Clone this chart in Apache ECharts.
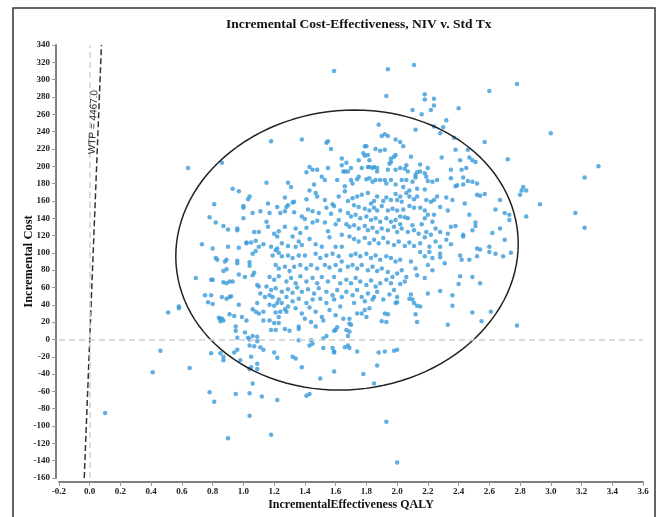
<!DOCTYPE html>
<html>
<head>
<meta charset="utf-8">
<script src="https://cdn.jsdelivr.net/npm/echarts@6/dist/echarts.min.js"></script>
<style>
html, body { margin: 0; padding: 0; background: #fff; }
#chart { width: 659px; height: 517px; }
</style>
</head>
<body>
<div id="chart"></div>
<script>
// incremental QALY, incremental cost
var pointsUpperLeft = [
  [0.64,198],[0.86,204],[1.18,229],[1.38,231],[1.54,227],[1.55,229],[1.57,220],[1.64,209],[1.43,199],[1.45,196],
  [1.48,196],[1.41,193],[1.55,198],[1.64,201],[1.65,194],[1.51,188],[1.53,184],[1.46,179],[1.61,184],[1.15,181],
  [1.29,181],[1.31,176],[0.93,174],[0.97,171],[1.04,165],[1.03,162],[1.00,154],[1.00,152],[0.81,156],[1.16,157],
  [1.27,164],[1.22,153],[1.28,153],[1.29,155],[1.32,158],[1.33,159],[1.41,162],[1.48,165],[1.47,169],[1.43,172],
  [1.53,161],[1.58,156],[1.59,154],[1.62,165],[1.11,148],[1.06,146],[1.17,146],[1.24,146],[1.27,148],[1.33,147],
  [1.38,142],[1.40,139],[1.42,150],[1.45,148],[1.49,146],[1.54,152],[1.57,145],[1.63,149],[0.78,141],[0.82,135],
  [0.87,131],[0.90,127],[0.96,128],[1.00,140],[1.07,124],[1.10,124],[1.15,136],[1.16,130],[1.20,122],[1.22,119],
  [1.23,125],[1.27,130],[1.32,119],[1.34,128],[1.37,123],[1.41,129],[1.45,135],[1.48,137],[1.53,135],[1.55,125],
  [1.60,133],[1.62,138],[1.64,121],[0.73,110],[0.90,107],[0.97,106],[1.02,111],[1.05,112],[1.10,107],[1.13,110],
  [1.18,107],[1.22,105],[1.25,111],[1.29,108],[1.34,107],[1.36,113],[1.38,109],[1.43,116],[1.47,110],[1.51,107],
  [1.56,118],[1.60,107],[1.64,107],[0.80,105],[0.96,126],[1.02,112],[1.08,114]
];
var pointsUpperRight = [
  [1.59,310],[1.94,312],[2.11,317],[1.93,281],[2.18,283],[2.18,277],[2.24,278],[2.24,270],[2.22,265],[2.10,265],
  [2.16,260],[2.40,267],[2.60,287],[2.78,295],[1.88,248],[2.12,242],[2.24,246],[2.30,245],[2.32,253],[2.28,238],
  [2.37,233],[2.57,228],[2.72,208],[1.90,235],[1.92,237],[1.94,235],[1.99,231],[2.02,228],[2.04,223],[1.86,220],
  [1.92,219],[1.89,218],[1.79,223],[1.80,223],[1.78,215],[1.79,212],[1.81,213],[1.75,207],[1.82,207],[1.96,209],
  [1.98,211],[1.95,203],[1.96,205],[1.99,213],[2.09,211],[2.15,202],[2.20,198],[2.15,194],[2.13,193],[2.12,190],
  [2.07,194],[2.05,197],[2.06,201],[2.02,198],[1.99,196],[1.94,196],[1.87,198],[1.85,199],[1.84,198],[1.82,199],
  [1.81,199],[1.77,198],[1.87,194],[1.70,198],[1.66,194],[1.75,188],[1.74,185],[1.70,184],[1.71,180],[1.67,204],
  [1.68,194],[1.66,177],[1.66,171],[1.80,185],[1.82,186],[1.84,182],[1.86,184],[1.89,184],[1.92,184],[1.93,180],
  [1.96,184],[1.99,179],[2.03,184],[2.06,184],[2.10,182],[2.12,187],[2.18,192],[2.20,183],[2.23,182],[2.04,176],
  [2.08,172],[2.13,174],[2.18,173],[2.19,188],[2.26,184],[2.29,210],[2.35,196],[2.35,186],[2.42,196],[2.43,187],
  [2.38,219],[2.46,219],[2.47,210],[2.41,207],[2.45,198],[2.49,207],[2.51,205],[2.43,179],[2.39,178],[2.46,183],
  [2.49,182],[2.52,180],[2.52,167],[2.54,166],[2.57,168],[2.38,177],[2.32,164],[2.36,161],[2.44,157],[2.28,153],
  [2.33,149],[2.47,144],[2.51,135],[2.51,131],[2.43,121],[2.43,119],[2.49,126],[2.60,107],[2.67,161],[2.67,128],
  [2.64,150],[2.70,146],[2.73,144],[2.70,115],[2.73,138],[2.19,161],[2.22,159],[2.24,161],[2.26,165],[2.18,149],
  [2.20,144],[2.15,152],[2.24,144],[2.23,136],[2.18,140],[2.16,133],[2.10,132],[2.07,140],[2.05,141],[2.02,142],
  [2.11,152],[2.08,154],[2.03,159],[2.00,161],[2.11,162],[2.13,165],[2.06,169],[2.08,165],[2.02,165],[1.99,168],
  [1.96,161],[1.93,164],[1.91,160],[1.87,165],[1.85,160],[1.83,157],[1.81,169],[1.77,167],[1.74,165],[1.71,163],
  [1.68,160],[1.72,155],[1.75,153],[1.79,151],[1.82,149],[1.85,152],[1.87,149],[1.90,154],[1.94,149],[1.97,151],
  [2.00,149],[2.04,150],[1.68,146],[1.70,142],[1.73,144],[1.76,140],[1.80,142],[1.83,138],[1.86,140],[1.89,136],
  [1.93,140],[1.96,136],[1.99,138],[2.02,133],[1.67,133],[1.69,130],[1.72,132],[1.75,128],[1.79,131],[1.81,126],
  [1.84,129],[1.87,124],[1.90,128],[1.94,126],[1.98,130],[2.00,124],[2.03,128],[2.07,124],[2.11,126],[2.14,122],
  [2.19,124],[2.22,121],[2.25,128],[2.28,124],[2.33,122],[2.35,130],[2.38,131],[1.69,119],[1.72,116],[1.75,113],
  [1.79,117],[1.82,111],[1.85,115],[1.88,111],[1.91,117],[1.94,112],[1.98,109],[2.01,113],[2.05,108],[2.08,112],
  [2.11,108],[2.15,111],[2.18,118],[2.21,107],[2.25,113],[2.28,107],[2.32,115],[2.35,110],[2.52,105],[2.54,104],
  [3.00,238],[3.31,200],[3.22,187],[2.82,176],[2.81,172],[2.84,172],[2.80,167],[2.93,156],[2.84,142],[3.16,146],
  [3.22,129],[2.62,123]
];
var pointsLowerLeft = [
  [0.51,31],[0.58,38],[0.58,36],[0.69,71],[0.79,69],[0.80,69],[0.75,51],[0.79,51],[0.77,43],[0.80,41],
  [0.86,49],[0.89,47],[0.91,49],[0.92,50],[0.84,25],[0.85,21],[0.86,24],[0.87,22],[0.85,24],[0.91,29],
  [0.94,27],[0.97,40],[0.99,26],[1.02,22],[0.95,15],[0.95,10],[0.96,2],[1.01,8],[1.03,2],[1.04,0],
  [1.06,4],[1.06,99],[1.08,102],[0.82,94],[0.83,92],[0.88,90],[0.89,92],[0.96,88],[0.96,91],[0.87,79],
  [0.89,81],[0.91,67],[0.93,67],[0.87,66],[0.89,65],[0.97,75],[1.01,72],[1.04,85],[1.04,89],[1.06,74],
  [1.07,77],[1.09,63],[1.10,61],[1.11,53],[1.09,42],[1.06,35],[1.08,32],[1.10,30],[1.13,32],[1.13,22],
  [1.17,22],[1.14,49],[1.17,51],[1.09,3],[1.09,-2],[1.04,-7],[1.07,-8],[1.11,-9],[1.13,-12],[1.20,-15],
  [1.22,-21],[1.18,11],[1.21,11],[1.23,26],[1.20,19],[1.23,19],[1.21,31],[1.24,32],[1.27,35],[1.17,40],
  [1.20,39],[1.22,42],[1.25,42],[1.29,38],[1.28,32],[1.30,10],[1.27,12],[1.32,-20],[1.34,-22],[1.38,-32],
  [1.36,-1],[1.36,15],[1.36,12],[1.44,-1],[1.45,-5],[1.43,-7],[1.52,1],[1.54,4],[1.52,-10],[1.52,22],
  [1.58,-10],[1.59,-14],[1.60,11],[1.61,14],[0.79,-16],[0.85,-16],[0.87,-24],[0.87,-20],[0.94,-15],[0.96,-12],
  [0.98,-24],[1.05,-20],[1.05,-32],[1.04,-34],[1.09,-28],[1.09,-34],
  [1.21,103],[1.23,100],[1.19,97],[1.25,96],[1.29,97],[1.32,94],[1.36,97],[1.40,97],[1.47,99],[1.50,94],
  [1.54,97],[1.58,99],[1.62,96],[1.64,90],[1.21,86],[1.23,82],[1.27,84],[1.30,79],[1.33,84],[1.37,86],
  [1.41,82],[1.44,86],[1.48,82],[1.53,86],[1.56,83],[1.60,86],[1.63,80],[1.17,72],[1.20,69],[1.23,73],
  [1.28,67],[1.31,71],[1.34,65],[1.37,73],[1.41,67],[1.45,71],[1.48,65],[1.51,72],[1.55,67],[1.59,72],
  [1.63,65],[1.15,61],[1.18,57],[1.21,59],[1.25,55],[1.29,58],[1.32,54],[1.35,60],[1.38,55],[1.42,58],
  [1.46,53],[1.49,59],[1.54,55],[1.58,51],[1.61,57],[1.64,49],[1.19,49],[1.23,46],[1.28,49],[1.32,44],
  [1.36,47],[1.41,42],[1.45,46],[1.50,47],[1.54,42],[1.59,46],[1.63,38],[1.34,36],[1.38,30],[1.43,37],
  [1.47,32],[1.51,26],[1.56,34],[1.60,28],[1.40,24],[1.44,20],[1.47,15]
];
var pointsLowerRight = [
  [2.28,99],[2.28,95],[2.31,88],[2.41,97],[2.42,92],[2.47,92],[2.52,96],[2.60,101],[2.64,99],[2.69,96],
  [2.74,100],[2.20,86],[2.23,80],[2.41,73],[2.40,64],[2.49,72],[2.54,65],[2.28,56],[2.20,53],[2.36,51],
  [2.36,39],[2.49,31],[2.61,32],[2.55,21],[2.33,17],[2.78,16],[2.09,52],[2.08,47],[2.10,46],[2.11,42],
  [2.13,39],[2.15,38],[2.12,29],[2.13,20],[2.00,49],[1.99,42],[1.98,57],[2.05,67],[2.06,72],[2.03,80],
  [2.09,90],[2.12,82],[2.13,74],[2.18,71],[2.21,101],[2.18,96],[2.15,101],[2.23,94],[1.92,30],[1.94,29],
  [1.90,21],[1.93,20],[1.95,52],[1.91,46],[1.87,55],[1.85,49],[1.82,36],[1.79,34],[1.77,30],[1.80,26],
  [1.74,30],[1.70,17],[1.69,18],[1.67,11],[1.69,9],[1.68,4],[1.68,-7],[1.69,-10],[1.74,-14],[1.88,-15],
  [1.92,-14],[1.98,-13],[2.00,-12],[1.87,-30],[1.78,-40],[1.85,-51],[1.93,-95],[2.00,-142],
  [1.70,97],[1.73,99],[1.76,96],[1.80,99],[1.83,94],[1.86,97],[1.89,92],[1.93,96],[1.96,94],[1.99,90],
  [2.02,92],[1.68,84],[1.71,86],[1.74,82],[1.77,86],[1.81,80],[1.84,84],[1.87,79],[1.90,82],[1.94,78],
  [1.97,72],[2.00,76],[1.67,69],[1.70,65],[1.73,71],[1.76,67],[1.80,63],[1.83,68],[1.86,61],[1.89,65],
  [1.93,69],[1.96,65],[1.67,55],[1.71,51],[1.74,57],[1.77,49],[1.81,53],[1.84,46],[1.72,42],[1.79,44],
  [2.02,64],[2.00,43],[1.66,-9],[1.59,-15],[1.65,24],[1.69,24],[1.59,10]
];
var pointsOutliers = [
  [0.10,-85],[0.41,-38],[0.46,-13],[0.65,-33],[0.78,-61],[0.81,-72],[0.95,-63],[1.04,-62],[1.06,-51],[1.04,-88],
  [1.12,-66],[1.22,-70],[1.18,-110],[0.90,-114],[1.41,-65],[1.43,-63],[1.50,-45],[1.59,-37]
];

var wtp = 4467.0;
var costRange = [-160, 340];
// confidence ellipse: centre, semi-axes, slight lean
var ellipseCenter = [1.674, 103.2];
var ellipseRadius = [1.113, 161.7];
var ellipseLean = 0.05;

var serif = '"Liberation Serif", "Times New Roman", serif';

var allPoints = pointsUpperLeft.concat(pointsUpperRight, pointsLowerLeft, pointsLowerRight, pointsOutliers);

var wtpLine = costRange.map(function (c) { return [c / wtp, c]; });

var ellipse = [];
for (var i = 0; i <= 120; i++) {
  var t = i / 120 * 2 * Math.PI;
  ellipse.push([
    ellipseCenter[0] + ellipseRadius[0] * Math.cos(t) + ellipseLean * Math.sin(t),
    ellipseCenter[1] + ellipseRadius[1] * Math.sin(t)
  ]);
}

var chart = echarts.init(document.getElementById('chart'));

var axisText = { fontFamily: serif, fontWeight: 'bold', fontSize: 9, color: '#222' };

chart.setOption({
  animation: false,
  title: {
    text: 'Incremental Cost-Effectiveness, NIV v. Std Tx',
    left: 221,
    top: 13,
    textStyle: { fontFamily: serif, fontWeight: 'bold', fontSize: 13.5, color: '#111' }
  },
  grid: { left: 59, right: 16, top: 45, bottom: 39 },
  xAxis: {
    type: 'value',
    min: -0.2,
    max: 3.6,
    interval: 0.2,
    offset: 4,
    name: 'IncrementalEffectiveness QALY',
    nameLocation: 'middle',
    nameGap: 17,
    nameMoveOverlap: false,
    nameTextStyle: { fontFamily: serif, fontWeight: 'bold', fontSize: 12, color: '#111' },
    axisLine: { onZero: false, lineStyle: { color: '#808080', width: 2 } },
    axisTick: { length: 4, lineStyle: { color: '#999' } },
    axisLabel: Object.assign({ margin: 5, formatter: function (v) { return v.toFixed(1); } }, axisText),
    splitLine: { show: false }
  },
  yAxis: {
    type: 'value',
    min: costRange[0],
    max: costRange[1],
    interval: 20,
    offset: 3,
    name: 'Incremental Cost',
    nameLocation: 'middle',
    nameGap: 21,
    nameMoveOverlap: false,
    nameTextStyle: { fontFamily: serif, fontWeight: 'bold', fontSize: 12.5, color: '#111' },
    axisLine: { onZero: false, lineStyle: { color: '#808080', width: 2 } },
    axisTick: { length: 4, lineStyle: { color: '#999' } },
    axisLabel: Object.assign({ margin: 6 }, axisText),
    splitLine: { show: false }
  },
  series: [
    {
      type: 'scatter',
      data: allPoints,
      symbolSize: 4.5,
      itemStyle: { color: '#3a9ad9' },
      markLine: {
        silent: true,
        symbol: 'none',
        label: { show: false },
        lineStyle: { color: '#cfcfcf', type: [6, 4], width: 1.5 },
        data: [{ xAxis: 0 }, { yAxis: 0 }]
      },
      z: 2
    },
    {
      type: 'line',
      data: wtpLine,
      symbol: 'none',
      lineStyle: { color: '#333', width: 1.5, type: [6, 3] },
      z: 3
    },
    {
      type: 'line',
      data: ellipse,
      symbol: 'none',
      smooth: false,
      lineStyle: { color: '#222', width: 1.5 },
      z: 3
    }
  ]
});

// WTP label along the threshold line
var labelCost = 251;
var pos = chart.convertToPixel({ gridIndex: 0 }, [labelCost / wtp, labelCost]);
chart.setOption({
  graphic: [
    {
      type: 'rect',
      shape: { x: 13, y: 8, width: 642, height: 520 },
      style: { fill: 'none', stroke: '#333', lineWidth: 1.5 },
      silent: true
    },
    {
      type: 'text',
      x: pos[0] - 5,
      y: pos[1],
      rotation: 1.531,
      style: {
        text: 'WTP = ' + wtp.toFixed(1),
        fontFamily: '"Liberation Sans", Arial, sans-serif',
        fontSize: 10,
        fill: '#222',
        align: 'center',
        verticalAlign: 'middle'
      },
      z: 10
    }
  ]
});
</script>
</body>
</html>
